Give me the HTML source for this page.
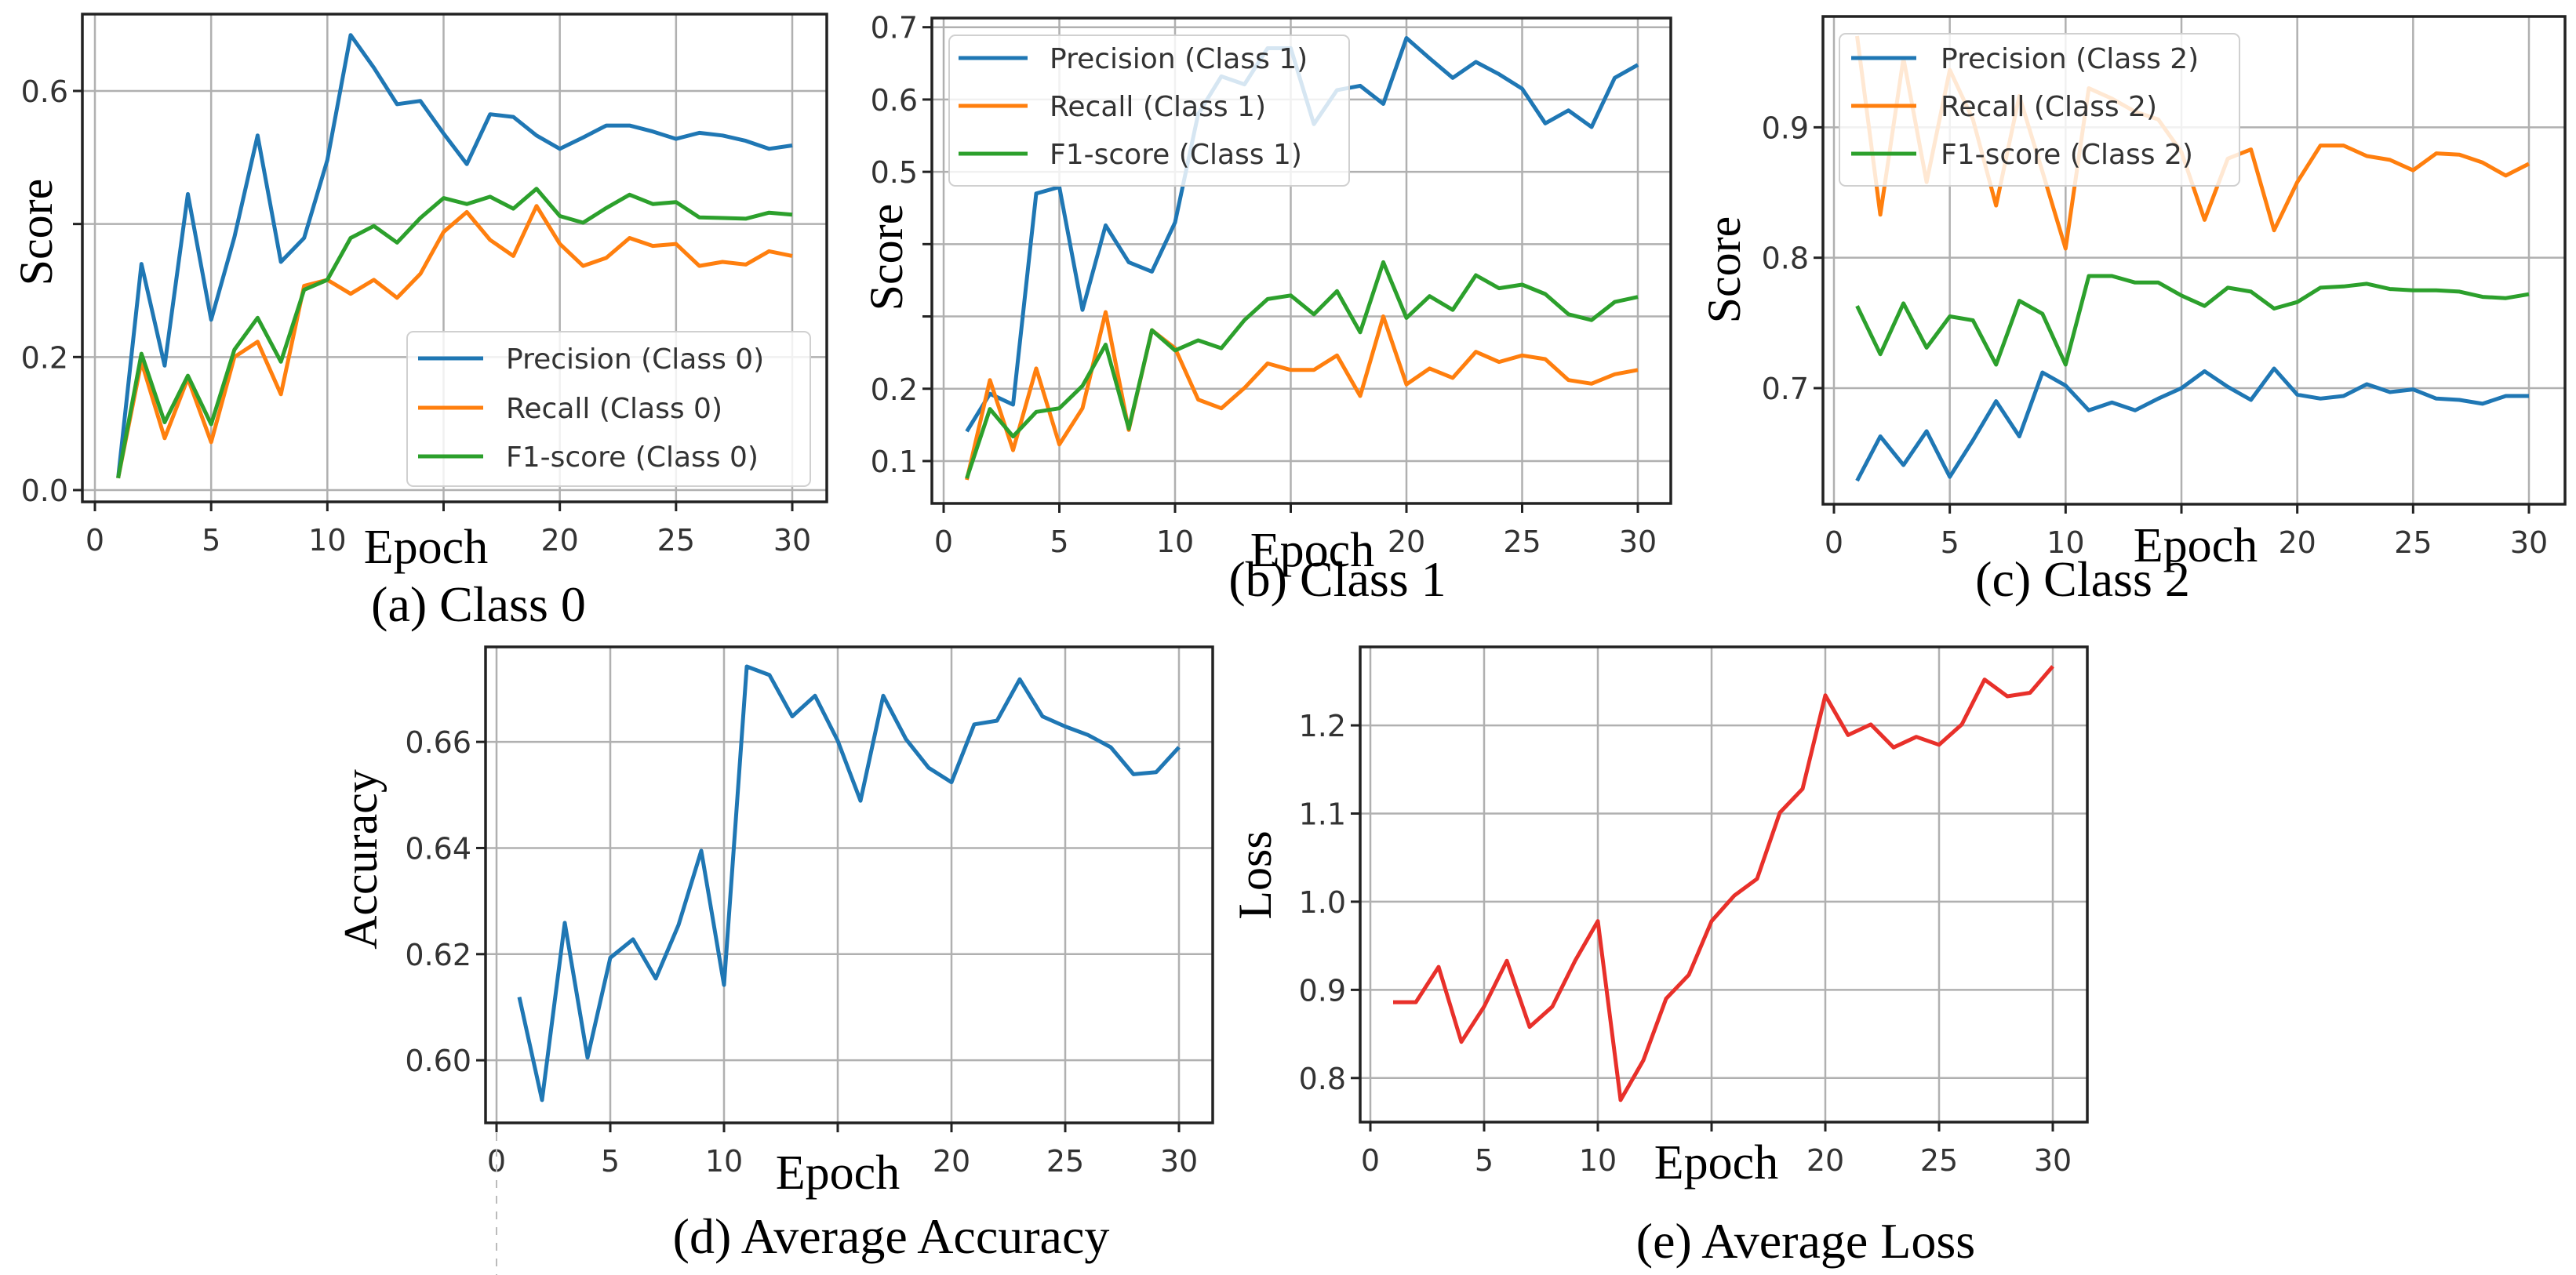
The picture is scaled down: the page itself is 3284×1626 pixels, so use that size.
<!DOCTYPE html>
<html><head><meta charset="utf-8"><style>
html,body{margin:0;padding:0;background:#fff;}
svg{display:block;}
.tk{font-family:"DejaVu Sans",sans-serif;font-size:38px;fill:#333;}
.lab{font-family:"Liberation Serif",serif;fill:#000;}
.lg{font-family:"DejaVu Sans",sans-serif;font-size:36px;fill:#333;}
</style></head><body>
<svg id="chart" width="3284" height="1626" viewBox="0 0 3284 1626" xmlns="http://www.w3.org/2000/svg"></svg>
<script>
const epochs = Array.from({length:30},(_,i)=>i+1);
const xTicks = [0,5,10,15,20,25,30];
const xTickLabels = ["0","5","10","","20","25","30"];

const precision0 = [0.018,0.34,0.187,0.445,0.256,0.38,0.533,0.343,0.379,0.496,0.684,0.635,0.58,0.585,0.536,0.49,0.565,0.561,0.533,0.513,0.53,0.548,0.548,0.539,0.528,0.537,0.533,0.525,0.513,0.518];
const recall0 = [0.018,0.193,0.078,0.168,0.072,0.2,0.223,0.144,0.307,0.316,0.295,0.316,0.289,0.325,0.388,0.418,0.376,0.352,0.427,0.37,0.337,0.349,0.379,0.367,0.37,0.337,0.343,0.339,0.359,0.352];
const f10 = [0.018,0.205,0.102,0.172,0.099,0.211,0.259,0.193,0.301,0.316,0.379,0.397,0.372,0.409,0.439,0.43,0.441,0.423,0.453,0.412,0.402,0.424,0.444,0.43,0.433,0.41,0.409,0.408,0.417,0.414];

const precision1 = [0.141,0.193,0.178,0.47,0.479,0.309,0.426,0.375,0.362,0.43,0.58,0.632,0.621,0.671,0.671,0.566,0.613,0.619,0.594,0.685,0.657,0.63,0.652,0.635,0.615,0.567,0.585,0.562,0.63,0.648];
const recall1 = [0.074,0.212,0.115,0.228,0.123,0.173,0.306,0.143,0.281,0.256,0.185,0.173,0.201,0.235,0.226,0.226,0.246,0.19,0.3,0.206,0.228,0.215,0.251,0.237,0.246,0.241,0.212,0.207,0.22,0.226];
const f11 = [0.076,0.172,0.134,0.168,0.173,0.204,0.261,0.145,0.281,0.253,0.267,0.256,0.295,0.324,0.329,0.303,0.335,0.278,0.375,0.298,0.328,0.309,0.357,0.339,0.344,0.331,0.303,0.295,0.32,0.327];

const precision2 = [0.629,0.663,0.641,0.667,0.632,0.66,0.69,0.663,0.712,0.702,0.683,0.689,0.683,0.692,0.7,0.713,0.701,0.691,0.715,0.695,0.692,0.694,0.703,0.697,0.699,0.692,0.691,0.688,0.694,0.694];
const recall2 = [0.97,0.833,0.953,0.858,0.944,0.906,0.84,0.924,0.866,0.807,0.93,0.922,0.912,0.906,0.881,0.829,0.876,0.883,0.821,0.858,0.886,0.886,0.878,0.875,0.867,0.88,0.879,0.873,0.863,0.872];
const f12 = [0.763,0.726,0.765,0.731,0.755,0.752,0.718,0.767,0.757,0.718,0.786,0.786,0.781,0.781,0.771,0.763,0.777,0.774,0.761,0.766,0.777,0.778,0.78,0.776,0.775,0.775,0.774,0.77,0.769,0.772];

const accuracy = [0.6119,0.5925,0.6259,0.6005,0.6193,0.6228,0.6154,0.6255,0.6395,0.6142,0.6742,0.6726,0.6648,0.6687,0.6602,0.6489,0.6687,0.6605,0.6551,0.6524,0.6633,0.664,0.6718,0.6648,0.6629,0.6613,0.659,0.6539,0.6543,0.659];
const loss = [0.886,0.886,0.926,0.841,0.881,0.933,0.858,0.881,0.933,0.978,0.775,0.82,0.89,0.917,0.978,1.007,1.026,1.101,1.128,1.234,1.189,1.201,1.175,1.187,1.178,1.201,1.252,1.233,1.237,1.267];

const yTicksA = [0.0,0.2,0.4,0.6]; const yLabelsA = ["0.0","0.2","","0.6"];
const yTicksB = [0.1,0.2,0.3,0.4,0.5,0.6,0.7]; const yLabelsB = ["0.1","0.2","","","0.5","0.6","0.7"];
const yTicksC = [0.7,0.8,0.9]; const yLabelsC = ["0.7","0.8","0.9"];
const yTicksD = [0.60,0.62,0.64,0.66]; const yLabelsD = ["0.60","0.62","0.64","0.66"];
const yTicksE = [0.8,0.9,1.0,1.1,1.2]; const yLabelsE = ["0.8","0.9","1.0","1.1","1.2"];

const BLUE="#1f77b4", ORANGE="#ff7f0e", GREEN="#2ca02c", RED="#e8302a";
const NS="http://www.w3.org/2000/svg";
const svg=document.getElementById('chart');
function mk(tag,attrs,parent){const e=document.createElementNS(NS,tag);for(const k in attrs)e.setAttribute(k,attrs[k]);(parent||svg).appendChild(e);return e;}

function panel(p){
  const g=mk('g',{});
  
  
  const xs=e=>p.x0+(p.x30-p.x0)*e/30;
  const ys=v=>p.bottom-(v-p.vBot)/(p.vTop-p.vBot)*(p.bottom-p.top);
  // grid
  xTicks.forEach((t,i)=>{
    const x=xs(t);
    const gl=mk('line',{x1:x,x2:x,y1:p.top,y2:p.bottom,stroke:'#b0b0b0','stroke-width':2.5},g);
    
    
    mk('line',{x1:x,x2:x,y1:p.bottom,y2:p.bottom+12,stroke:'#222','stroke-width':3},g);
    const tl=mk('text',{x:x,y:p.bottom+62,'text-anchor':'middle',class:'tk'},g);
    tl.textContent=xTickLabels[i];
    
    
  });
  p.yTicks.forEach((t,i)=>{
    const y=ys(t);
    const gl=mk('line',{x1:p.left,x2:p.right,y1:y,y2:y,stroke:'#b0b0b0','stroke-width':2.5},g);
    
    
    mk('line',{x1:p.left-12,x2:p.left,y1:y,y2:y,stroke:'#222','stroke-width':3},g);
    const tl=mk('text',{x:p.left-18,y:y+14,'text-anchor':'end',class:'tk'},g);
    tl.textContent=p.yLabels[i];
    
    
  });
  // series
  p.series.forEach(s=>{
    const d=s.data.map((v,i)=>(i?'L':'M')+xs(epochs[i]).toFixed(1)+','+ys(v).toFixed(1)).join(' ');
    const pl=mk('path',{d:d,fill:'none',stroke:s.color,'stroke-width':5,'stroke-linejoin':'round'},g);
    
    
  });
  // frame
  const fr=mk('rect',{x:p.left,y:p.top,width:p.right-p.left,height:p.bottom-p.top,fill:'none',stroke:'#222','stroke-width':3.5},g);
  
  
  // legend
  if(p.legend){
    const L=p.legend;
    const lr=mk('rect',{x:L.x,y:L.y,width:L.w,height:L.h,rx:8,fill:'rgba(255,255,255,0.82)',stroke:'#d0d0d0','stroke-width':2},g);
    
    
    p.series.forEach((s,i)=>{
      const y=L.rows[i];
      const ll=mk('line',{x1:L.lx1,x2:L.lx2,y1:y,y2:y,stroke:s.color,'stroke-width':5},g);
      
      
      const lt=mk('text',{x:L.tx,y:y+13,class:'lg'},g);
      lt.textContent=s.label;
      
      
    });
  }
  // y label
  const yl=mk('text',{x:0,y:0,'text-anchor':'middle',class:'lab','font-size':p.ylSize,transform:`translate(${p.ylX},${p.ylY}) rotate(-90)`},g);
  yl.textContent=p.ylabel;
  
  
  const xl=mk('text',{x:p.xlX,y:p.xlY,'text-anchor':'middle',class:'lab','font-size':62},g);
  xl.textContent='Epoch';
  
  
  const cap=mk('text',{x:p.capX,y:p.capY,'text-anchor':'middle',class:'lab','font-size':64},g);
  cap.textContent=p.caption;
  
  
}

panel({name:'panel-class-0',left:105,right:1054,top:18,bottom:640,x0:121,x30:1010,vTop:0.7155,vBot:-0.0177,
  yTicks:yTicksA,yLabels:yLabelsA,ylabel:'Score',ylSize:60,ylX:66,ylY:296,xlX:543,xlY:718,caption:'(a) Class 0',capX:610,capY:792,
  series:[{key:'precision-class-0',label:'Precision (Class 0)',color:BLUE,data:precision0},{key:'recall-class-0',label:'Recall (Class 0)',color:ORANGE,data:recall0},{key:'f1-class-0',label:'F1-score (Class 0)',color:GREEN,data:f10}],
  legend:{x:519,y:423,w:514,h:197,rows:[457,520,582],lx1:533,lx2:616,tx:645}});

panel({name:'panel-class-1',left:1188,right:2130,top:23,bottom:642,x0:1203,x30:2088,vTop:0.7127,vBot:0.0414,
  yTicks:yTicksB,yLabels:yLabelsB,ylabel:'Score',ylSize:60,ylX:1150,ylY:328,xlX:1673,xlY:722,caption:'(b) Class 1',capX:1705,capY:760,
  series:[{key:'precision-class-1',label:'Precision (Class 1)',color:BLUE,data:precision1},{key:'recall-class-1',label:'Recall (Class 1)',color:ORANGE,data:recall1},{key:'f1-class-1',label:'F1-score (Class 1)',color:GREEN,data:f11}],
  legend:{x:1210,y:45,w:510,h:192,rows:[74,135,196],lx1:1222,lx2:1310,tx:1338}});

panel({name:'panel-class-2',left:2324,right:3270,top:21,bottom:643,x0:2338,x30:3224,vTop:0.985,vBot:0.611,
  yTicks:yTicksC,yLabels:yLabelsC,ylabel:'Score',ylSize:60,ylX:2218,ylY:344,xlX:2799,xlY:716,caption:'(c) Class 2',capX:2655,capY:760,
  series:[{key:'precision-class-2',label:'Precision (Class 2)',color:BLUE,data:precision2},{key:'recall-class-2',label:'Recall (Class 2)',color:ORANGE,data:recall2},{key:'f1-class-2',label:'F1-score (Class 2)',color:GREEN,data:f12}],
  legend:{x:2345,y:43,w:510,h:194,rows:[74,135,196],lx1:2360,lx2:2443,tx:2474}});

panel({name:'panel-average-accuracy',left:619,right:1546,top:825,bottom:1432,x0:633,x30:1503,vTop:0.6779,vBot:0.5882,
  yTicks:yTicksD,yLabels:yLabelsD,ylabel:'Accuracy',ylSize:60,ylX:480,ylY:1096,xlX:1068,xlY:1516,caption:'(d) Average Accuracy',capX:1136,capY:1598,
  series:[{key:'accuracy-line',label:'Accuracy',color:BLUE,data:accuracy}]});

panel({name:'panel-average-loss',left:1734,right:2661,top:825,bottom:1431,x0:1747,x30:2617,vTop:1.289,vBot:0.75,
  yTicks:yTicksE,yLabels:yLabelsE,ylabel:'Loss',ylSize:60,ylX:1620,ylY:1116,xlX:2188,xlY:1503,caption:'(e) Average Loss',capX:2302,capY:1604,
  series:[{key:'loss-line',label:'Loss',color:RED,data:loss}]});

const dl=mk('line',{x1:633,x2:633,y1:1445,y2:1626,stroke:'#bbb','stroke-width':2,'stroke-dasharray':'10,10'});


</script>
</body></html>
